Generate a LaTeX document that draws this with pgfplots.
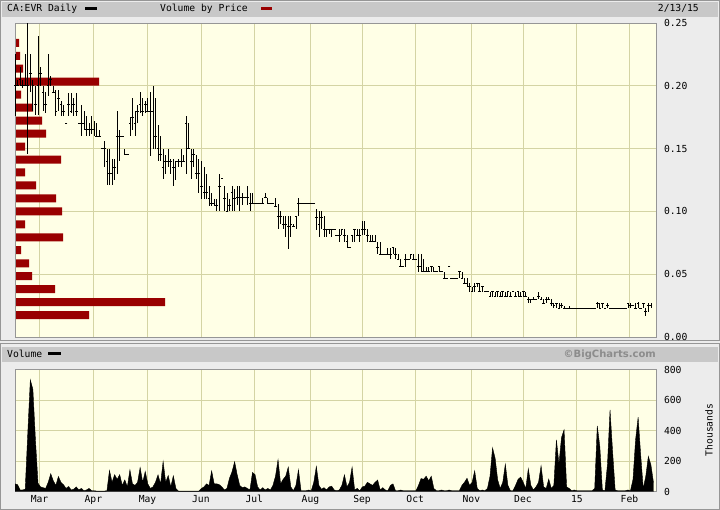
\documentclass[border=0pt]{standalone}
\usepackage{fontspec}
\setmainfont{DejaVu Sans Mono}
\newfontfamily\bsans{DejaVu Sans}
\usepackage{pgfplots}
\usepackage{pgfplotstable}
\pgfplotsset{compat=1.18}

\definecolor{panel}{RGB}{236,236,236}
\definecolor{hdr}{RGB}{200,200,200}
\definecolor{plotbg}{RGB}{255,255,230}
\definecolor{gridc}{RGB}{212,212,164}
\definecolor{vbpred}{RGB}{153,0,0}
\definecolor{edge}{RGB}{150,150,150}
\definecolor{copyc}{RGB}{140,140,140}

% daily bars: day, high, low, close
\pgfplotstableread[row sep=\\]{
d h l c\\
0 0.225 0.176 0.200\\ 1 0.205 0.200 0.200\\ 2 0.215 0.200 0.205\\ 3 0.205 0.198 0.200\\ 4 0.225 0.200 0.200\\
5 0.250 0.146 0.200\\ 6 0.225 0.195 0.210\\ 7 0.205 0.180 0.200\\ 8 0.200 0.177 0.185\\ 9 0.240 0.177 0.200\\
10 0.215 0.200 0.210\\ 11 0.200 0.180 0.195\\ 12 0.195 0.178 0.185\\ 13 0.225 0.192 0.200\\ 14 0.208 0.200 0.205\\
15 0.200 0.194 0.195\\ 16 0.197 0.176 0.180\\ 17 0.197 0.180 0.190\\ 18 0.188 0.176 0.185\\ 19 0.185 0.176 0.180\\
20 0.170 0.170 0.170\\ 21 0.194 0.176 0.185\\ 22 0.194 0.178 0.180\\ 23 0.190 0.176 0.185\\ 24 0.194 0.176 0.180\\
25 0.170 0.170 0.170\\ 26 0.185 0.160 0.170\\ 27 0.180 0.165 0.170\\ 28 0.176 0.160 0.165\\ 29 0.170 0.160 0.165\\
30 0.176 0.162 0.165\\ 31 0.172 0.160 0.165\\ 32 0.170 0.160 0.160\\ 33 0.165 0.160 0.160\\ 34 0.150 0.150 0.150\\
35 0.156 0.135 0.150\\ 36 0.150 0.121 0.140\\ 37 0.150 0.121 0.130\\ 38 0.142 0.121 0.130\\ 39 0.142 0.125 0.135\\
40 0.180 0.130 0.160\\ 41 0.165 0.140 0.160\\ 42 0.160 0.160 0.160\\ 43 0.150 0.145 0.145\\ 44 0.145 0.145 0.145\\
45 0.175 0.160 0.170\\ 46 0.190 0.165 0.175\\ 47 0.180 0.160 0.170\\ 48 0.185 0.170 0.180\\ 49 0.195 0.178 0.185\\
50 0.190 0.176 0.180\\ 51 0.188 0.178 0.185\\ 52 0.190 0.180 0.180\\ 53 0.195 0.144 0.180\\ 54 0.200 0.150 0.180\\
55 0.190 0.150 0.160\\ 56 0.169 0.140 0.150\\ 57 0.160 0.140 0.145\\ 58 0.150 0.126 0.135\\ 59 0.145 0.130 0.140\\
60 0.150 0.135 0.140\\ 61 0.142 0.130 0.140\\ 62 0.142 0.120 0.135\\ 63 0.140 0.125 0.140\\ 64 0.142 0.135 0.140\\
65 0.150 0.135 0.140\\ 66 0.145 0.140 0.140\\ 67 0.176 0.130 0.170\\ 68 0.170 0.150 0.150\\ 69 0.150 0.126 0.140\\
70 0.150 0.135 0.145\\ 71 0.145 0.126 0.130\\ 72 0.142 0.115 0.130\\ 73 0.140 0.110 0.120\\ 74 0.135 0.110 0.115\\
75 0.130 0.110 0.115\\ 76 0.120 0.104 0.110\\ 77 0.115 0.104 0.106\\ 78 0.110 0.104 0.106\\ 79 0.110 0.100 0.105\\
80 0.130 0.100 0.120\\ 81 0.126 0.126 0.126\\ 82 0.120 0.100 0.110\\ 83 0.115 0.100 0.100\\ 84 0.110 0.100 0.105\\
85 0.120 0.100 0.115\\ 86 0.118 0.100 0.110\\ 87 0.120 0.105 0.111\\ 88 0.120 0.100 0.111\\ 89 0.115 0.105 0.111\\
90 0.111 0.111 0.111\\ 91 0.120 0.105 0.111\\ 92 0.115 0.100 0.106\\ 93 0.115 0.106 0.106\\ 94 0.106 0.106 0.106\\
95 0.106 0.106 0.106\\ 96 0.106 0.106 0.106\\ 97 0.111 0.106 0.106\\ 98 0.115 0.111 0.111\\ 99 0.111 0.106 0.106\\
100 0.106 0.106 0.106\\ 101 0.106 0.106 0.106\\ 102 0.111 0.104 0.104\\ 103 0.106 0.086 0.096\\ 104 0.100 0.090 0.096\\
105 0.096 0.086 0.090\\ 106 0.096 0.080 0.090\\ 107 0.096 0.070 0.088\\ 108 0.096 0.080 0.090\\ 109 0.090 0.088 0.088\\
110 0.096 0.086 0.096\\ 111 0.111 0.096 0.106\\ 112 0.106 0.106 0.106\\ 113 0.106 0.106 0.106\\ 114 0.106 0.106 0.106\\
115 0.106 0.106 0.106\\ 116 0.106 0.106 0.106\\ 117 0.106 0.106 0.106\\ 118 0.102 0.085 0.095\\ 119 0.100 0.080 0.090\\
120 0.100 0.086 0.095\\ 121 0.096 0.080 0.086\\ 122 0.086 0.080 0.086\\ 123 0.086 0.082 0.086\\ 124 0.086 0.080 0.086\\
125 0.086 0.086 0.086\\ 126 0.081 0.081 0.081\\ 127 0.086 0.076 0.081\\ 128 0.086 0.081 0.086\\ 129 0.086 0.076 0.081\\
130 0.081 0.071 0.076\\ 131 0.071 0.071 0.071\\ 132 0.081 0.076 0.081\\ 133 0.086 0.076 0.086\\ 134 0.086 0.081 0.081\\
135 0.086 0.076 0.081\\ 136 0.092 0.081 0.086\\ 137 0.092 0.081 0.086\\ 138 0.086 0.076 0.081\\ 139 0.081 0.076 0.076\\
140 0.081 0.076 0.076\\ 141 0.081 0.076 0.076\\ 142 0.076 0.066 0.071\\ 143 0.076 0.066 0.066\\ 144 0.066 0.066 0.066\\
145 0.066 0.066 0.066\\ 146 0.071 0.066 0.066\\ 147 0.071 0.062 0.066\\ 148 0.071 0.066 0.071\\ 149 0.071 0.062 0.066\\
150 0.066 0.062 0.062\\ 151 0.062 0.056 0.056\\ 152 0.056 0.056 0.056\\ 153 0.066 0.056 0.062\\ 154 0.062 0.062 0.062\\
155 0.066 0.062 0.066\\ 156 0.066 0.062 0.062\\ 157 0.062 0.062 0.062\\ 158 0.066 0.052 0.056\\ 159 0.066 0.052 0.056\\
160 0.062 0.052 0.052\\ 161 0.056 0.052 0.052\\ 162 0.056 0.052 0.052\\ 163 0.056 0.052 0.056\\ 164 0.056 0.052 0.052\\
165 0.052 0.052 0.052\\ 166 0.056 0.052 0.056\\ 167 0.052 0.052 0.052\\ 168 0.052 0.047 0.047\\ 169 0.047 0.047 0.047\\
170 0.056 0.056 0.056\\ 171 0.047 0.047 0.047\\ 172 0.047 0.047 0.047\\ 173 0.047 0.047 0.047\\ 174 0.052 0.047 0.052\\
175 0.052 0.047 0.047\\ 176 0.047 0.043 0.043\\ 177 0.047 0.040 0.043\\ 178 0.043 0.036 0.040\\ 179 0.040 0.036 0.036\\
180 0.043 0.036 0.040\\ 181 0.043 0.040 0.043\\ 182 0.043 0.036 0.036\\ 183 0.040 0.036 0.040\\ 184 0.036 0.036 0.036\\
185 0.036 0.036 0.036\\ 186 0.036 0.032 0.032\\ 187 0.036 0.032 0.036\\ 188 0.036 0.032 0.032\\ 189 0.036 0.032 0.036\\
190 0.036 0.032 0.032\\ 191 0.036 0.032 0.036\\ 192 0.036 0.032 0.032\\ 193 0.036 0.032 0.036\\ 194 0.036 0.032 0.032\\
195 0.036 0.036 0.036\\ 196 0.036 0.032 0.032\\ 197 0.036 0.032 0.036\\ 198 0.036 0.032 0.032\\ 199 0.036 0.032 0.036\\
200 0.036 0.032 0.032\\ 201 0.032 0.027 0.030\\ 202 0.030 0.027 0.030\\ 203 0.032 0.030 0.030\\ 204 0.030 0.030 0.030\\
205 0.036 0.030 0.032\\ 206 0.032 0.030 0.030\\ 207 0.030 0.027 0.027\\ 208 0.032 0.027 0.030\\ 209 0.032 0.030 0.030\\
210 0.030 0.025 0.027\\ 211 0.027 0.023 0.025\\ 212 0.027 0.023 0.027\\ 213 0.027 0.023 0.023\\ 214 0.027 0.023 0.025\\
215 0.025 0.023 0.023\\ 216 0.023 0.023 0.023\\ 217 0.025 0.023 0.023\\ 218 0.023 0.023 0.023\\ 219 0.023 0.023 0.023\\
220 0.023 0.023 0.023\\ 221 0.023 0.023 0.023\\ 222 0.023 0.023 0.023\\ 223 0.023 0.023 0.023\\ 224 0.023 0.023 0.023\\
225 0.023 0.023 0.023\\ 226 0.023 0.023 0.023\\ 227 0.023 0.023 0.023\\ 228 0.028 0.023 0.027\\ 229 0.027 0.023 0.023\\
230 0.027 0.023 0.027\\ 231 0.023 0.023 0.023\\ 232 0.027 0.023 0.025\\ 233 0.023 0.023 0.023\\ 234 0.023 0.023 0.023\\
235 0.023 0.023 0.023\\ 236 0.023 0.023 0.023\\ 237 0.023 0.023 0.023\\ 238 0.023 0.023 0.023\\ 239 0.023 0.023 0.023\\
240 0.027 0.023 0.027\\ 241 0.027 0.023 0.025\\ 242 0.025 0.025 0.025\\ 243 0.027 0.023 0.023\\ 244 0.028 0.023 0.027\\
245 0.023 0.023 0.023\\ 246 0.027 0.023 0.027\\ 247 0.023 0.017 0.020\\ 248 0.027 0.020 0.025\\ 249 0.027 0.023 0.025\\
}\price

% volume by price: bucket price, relative volume
\pgfplotstableread[row sep=\\]{
p v\\
0.2342 3\\ 0.2239 4\\ 0.2136 7\\ 0.2033 83\\ 0.1929 5\\ 0.1826 17\\ 0.1723 26\\ 0.1620 30\\
0.1516 9\\ 0.1413 45\\ 0.1310 9\\ 0.1207 20\\ 0.1104 40\\ 0.1000 46\\ 0.0897 9\\ 0.0794 47\\
0.0691 5\\ 0.0587 13\\ 0.0484 16\\ 0.0381 39\\ 0.0278 149\\ 0.0174 73\\
}\vbp

% daily volume, thousands
\pgfplotstableread[row sep=\\]{
d v\\
0 50\\ 1 45\\ 2 10\\ 3 10\\ 4 15\\ 5 380\\ 6 732\\ 7 670\\ 8 340\\ 9 55\\
10 30\\ 11 25\\ 12 20\\ 13 60\\ 14 116\\ 15 70\\ 16 40\\ 17 98\\ 18 60\\ 19 44\\
20 20\\ 21 33\\ 22 10\\ 23 15\\ 24 30\\ 25 10\\ 26 20\\ 27 5\\ 28 10\\ 29 20\\
30 5\\ 31 5\\ 32 3\\ 33 3\\ 34 3\\ 35 3\\ 36 5\\ 37 138\\ 38 60\\ 39 110\\
40 80\\ 41 110\\ 42 40\\ 43 76\\ 44 30\\ 45 142\\ 46 50\\ 47 40\\ 48 60\\ 49 157\\
50 60\\ 51 131\\ 52 50\\ 53 20\\ 54 30\\ 55 60\\ 56 109\\ 57 50\\ 58 197\\ 59 60\\
60 105\\ 61 30\\ 62 103\\ 63 20\\ 64 3\\ 65 3\\ 66 3\\ 67 3\\ 68 3\\ 69 3\\
70 3\\ 71 3\\ 72 3\\ 73 20\\ 74 30\\ 75 50\\ 76 40\\ 77 135\\ 78 50\\ 79 50\\
80 45\\ 81 30\\ 82 10\\ 83 20\\ 84 87\\ 85 130\\ 86 195\\ 87 110\\ 88 40\\ 89 25\\
90 30\\ 91 20\\ 92 10\\ 93 125\\ 94 110\\ 95 30\\ 96 10\\ 97 25\\ 98 10\\ 99 20\\
100 10\\ 101 40\\ 102 100\\ 103 208\\ 104 50\\ 105 80\\ 106 100\\ 107 160\\ 108 30\\ 109 5\\
110 40\\ 111 142\\ 112 5\\ 113 5\\ 114 5\\ 115 10\\ 116 5\\ 117 60\\ 118 164\\ 119 40\\
120 15\\ 121 25\\ 122 10\\ 123 30\\ 124 35\\ 125 10\\ 126 5\\ 127 10\\ 128 40\\ 129 109\\
130 30\\ 131 60\\ 132 160\\ 133 10\\ 134 20\\ 135 5\\ 136 30\\ 137 35\\ 138 60\\ 139 50\\
140 40\\ 141 60\\ 142 75\\ 143 10\\ 144 25\\ 145 10\\ 146 5\\ 147 40\\ 148 50\\ 149 5\\
150 5\\ 151 10\\ 152 5\\ 153 5\\ 154 5\\ 155 5\\ 156 5\\ 157 5\\ 158 40\\ 159 85\\
160 80\\ 161 100\\ 162 70\\ 163 100\\ 164 20\\ 165 5\\ 166 5\\ 167 10\\ 168 5\\ 169 5\\
170 10\\ 171 5\\ 172 5\\ 173 5\\ 174 5\\ 175 40\\ 176 60\\ 177 87\\ 178 40\\ 179 60\\
180 135\\ 181 20\\ 182 5\\ 183 10\\ 184 5\\ 185 20\\ 186 100\\ 187 286\\ 188 219\\ 189 76\\
190 20\\ 191 60\\ 192 179\\ 193 40\\ 194 5\\ 195 5\\ 196 40\\ 197 80\\ 198 94\\ 199 60\\
200 20\\ 201 149\\ 202 40\\ 203 10\\ 204 30\\ 205 60\\ 206 168\\ 207 30\\ 208 20\\ 209 81\\
210 20\\ 211 40\\ 212 339\\ 213 180\\ 214 354\\ 215 404\\ 216 30\\ 217 20\\ 218 5\\ 219 10\\
220 5\\ 221 5\\ 222 5\\ 223 5\\ 224 5\\ 225 5\\ 226 5\\ 227 20\\ 228 430\\ 229 295\\
230 10\\ 231 5\\ 232 179\\ 233 535\\ 234 262\\ 235 10\\ 236 5\\ 237 5\\ 238 5\\ 239 5\\
240 10\\ 241 5\\ 242 80\\ 243 339\\ 244 487\\ 245 240\\ 246 20\\ 247 100\\ 248 230\\ 249 175\\
250 60\\
}\vol

\pgfplotsset{
  panel/.style={
    scale only axis, width=641pt, xmin=0, xmax=251,
    axis background/.style={fill=plotbg},
    grid=major, grid style={gridc, line width=0.8pt},
    xtick={9.6,30.7,51.9,72.8,93.7,115.7,135.9,156.7,178.7,198.9,220,240.6},
    major tick length=0pt,
    axis line style={edge, line width=0.8pt},
    yticklabel pos=right,
    yticklabel style={xshift=4.5pt},
    tick label style={font=\fontsize{9.7}{11}\selectfont},
  },
  overlay/.style={scale only axis, width=641pt, hide axis},
}

\begin{document}
\begin{tikzpicture}
\useasboundingbox (0,0) rectangle (720pt,510pt);
\fill[panel] (0,0) rectangle (720pt,510pt);
\draw[edge, line width=1pt] (0.5pt,169pt) rectangle (719.5pt,509.5pt);
\draw[edge, line width=1pt] (0.5pt,0.5pt) rectangle (719.5pt,166pt);
\fill[hdr] (2pt,493pt) rectangle (718pt,508pt);
\fill[hdr] (2pt,148pt) rectangle (718pt,163pt);

\begin{scope}[font=\fontsize{9.7}{11}\selectfont]
\node[anchor=base west, inner sep=0] at (7pt,498pt) {CA:EVR Daily};
\fill[black] (85pt,500pt) rectangle (97pt,503pt);
\node[anchor=base west, inner sep=0] at (160pt,498pt) {Volume by Price};
\fill[vbpred] (261pt,500pt) rectangle (272pt,503pt);
\node[anchor=base east, inner sep=0] at (699pt,498pt) {2/13/15};
\node[anchor=base west, inner sep=0] at (7pt,152pt) {Volume};
\fill[black] (48pt,154.5pt) rectangle (61pt,157.5pt);
\node[anchor=base east, inner sep=0, text=copyc] at (656pt,152pt) {\bsans\bfseries\fontsize{10}{11}\selectfont ©BigCharts.com};
\node[rotate=90, inner sep=0] at (709pt,80pt) {Thousands};
\end{scope}

% price panel frame and grid
\begin{axis}[panel, at={(15pt,173pt)}, height=314pt,
  ymin=0, ymax=0.25, ytick={0,0.05,0.1,0.15,0.2,0.25},
  yticklabels={0.00,0.05,0.10,0.15,0.20,0.25}, xticklabels={}]
\end{axis}

% volume by price bars
\begin{axis}[overlay, at={(15pt,173pt)}, height=314pt,
  xmin=-1, xmax=640, ymin=0, ymax=0.25, xbar, bar width=8pt]
\addplot[fill=vbpred, draw=none] table[x=v, y=p] {\vbp};
\end{axis}

% daily high-low bars with close
\begin{axis}[overlay, at={(15pt,173pt)}, height=314pt,
  xmin=0, xmax=251, ymin=0, ymax=0.25]
\addplot[black, only marks, mark=-, mark size=1.3pt,
  mark options={line width=0.8pt},
  error bars/.cd, y dir=both, y explicit, error mark=none,
  error bar style={line width=0.8pt, black}]
  table[x=d, y=c, y error plus expr=\thisrow{h}-\thisrow{c},
        y error minus expr=\thisrow{c}-\thisrow{l}] {\price};
\end{axis}

% volume panel
\begin{axis}[panel, at={(15pt,18.5pt)}, height=122pt,
  ymin=0, ymax=800, ytick={0,200,400,600,800},
  yticklabels={0,200,400,600,800},
  xticklabels={Mar,Apr,May,Jun,Jul,Aug,Sep,Oct,Nov,Dec,15,Feb}]
\addplot[fill=black, draw=black, line width=0.4pt] table[x=d, y=v] {\vol} \closedcycle;
\end{axis}
\end{tikzpicture}
\end{document}
